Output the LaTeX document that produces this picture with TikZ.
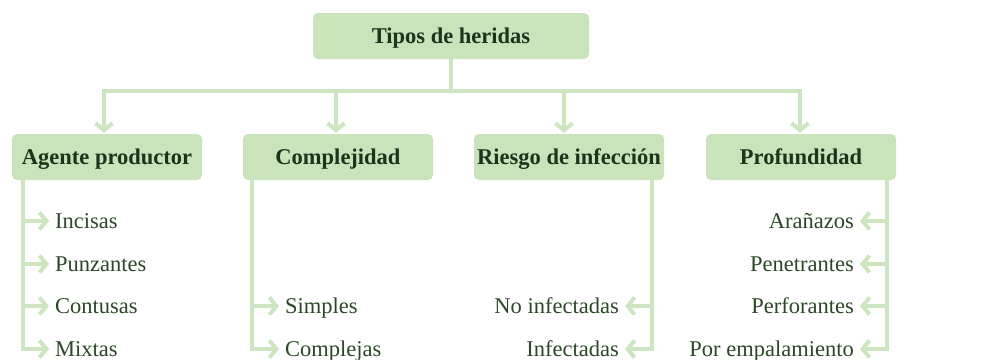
\documentclass[tikz,border=0pt]{standalone}
\usepackage{fontspec}
\setmainfont{Liberation Serif}
\usetikzlibrary{arrows.meta,positioning,calc}
\definecolor{HerBox}{HTML}{C9E3BA}
\definecolor{HerLine}{HTML}{CDE5C1}
\definecolor{HerInk}{HTML}{1E321C}
\definecolor{HerLeaf}{HTML}{2B4726}

\begin{document}
\begin{tikzpicture}[x=1pt, y=-1pt, font=\fontsize{22.5}{27}\selectfont,
  head/.style={rounded corners=5pt, fill=HerBox, text=HerInk, font=\fontsize{22.5}{27}\selectfont\bfseries, minimum width=190pt, minimum height=46pt, inner sep=0pt, text height=16pt, text depth=2pt},
  leaf/.style={text=HerLeaf, inner xsep=6pt, inner ysep=0pt, text height=15pt, text depth=1pt},
  link/.style={line width=4pt, HerLine},
  arr/.style={link, -{Straight Barb[length=7pt, width=17pt]}}]
\useasboundingbox (0,0) rectangle (981,359);
% boxes
\node[head, minimum width=276pt] (root) at (451,36) {Tipos de heridas};
\node[head] (agente) at (107,157) {Agente productor};
\node[head] (complej) at (338,157) {Complejidad};
\node[head] (riesgo) at (569,157) {Riesgo de infección};
\node[head] (profund) at (801,157) {Profundidad};
% leaves
\node[leaf, anchor=west] (incisas) at (49,221) {Incisas};
\node[leaf, anchor=west] (punzantes) at (49,264) {Punzantes};
\node[leaf, anchor=west] (contusas) at (49,306) {Contusas};
\node[leaf, anchor=west] (mixtas) at (49,349) {Mixtas};
\node[leaf, anchor=west] (simples) at (279,306) {Simples};
\node[leaf, anchor=west] (complejas) at (279,349) {Complejas};
\node[leaf, anchor=east] (noinf) at (625,306) {No infectadas};
\node[leaf, anchor=east] (inf) at (625,349) {Infectadas};
\node[leaf, anchor=east] (aranazos) at (860,221) {Arañazos};
\node[leaf, anchor=east] (penetr) at (860,264) {Penetrantes};
\node[leaf, anchor=east] (perfor) at (860,306) {Perforantes};
\node[leaf, anchor=east] (empal) at (860,349) {Por empalamiento};
% top tree
\coordinate (hub) at (451,91);
\draw[link] (root) -- (hub);
\draw[arr, shorten >=1pt] (hub) -| ([xshift=-3pt]agente.north);
\draw[arr, shorten >=1pt] (hub) -| ([xshift=-2pt]complej.north);
\draw[arr, shorten >=1pt] (hub) -| ([xshift=-5pt]riesgo.north);
\draw[arr, shorten >=1pt] (hub) -| ([xshift=-1pt]profund.north);
% rails
\coordinate (railA) at ([xshift=11pt]agente.south west);
\coordinate (railB) at ([xshift=9pt]complej.south west);
\coordinate (railC) at ([xshift=-12pt]riesgo.south east);
\coordinate (railD) at ([xshift=-9pt]profund.south east);
\draw[arr] (railA) |- (mixtas.west);
\foreach \n in {incisas,punzantes,contusas}
  \draw[arr] (railA |- \n.west) -- (\n.west);
\draw[arr] (railB) |- (complejas.west);
\draw[arr] (railB |- simples.west) -- (simples.west);
\draw[arr] (railC) |- (inf.east);
\draw[arr] (railC |- noinf.east) -- (noinf.east);
\draw[arr] (railD) |- (empal.east);
\foreach \n in {aranazos,penetr,perfor}
  \draw[arr] (railD |- \n.east) -- (\n.east);
\end{tikzpicture}
\end{document}
